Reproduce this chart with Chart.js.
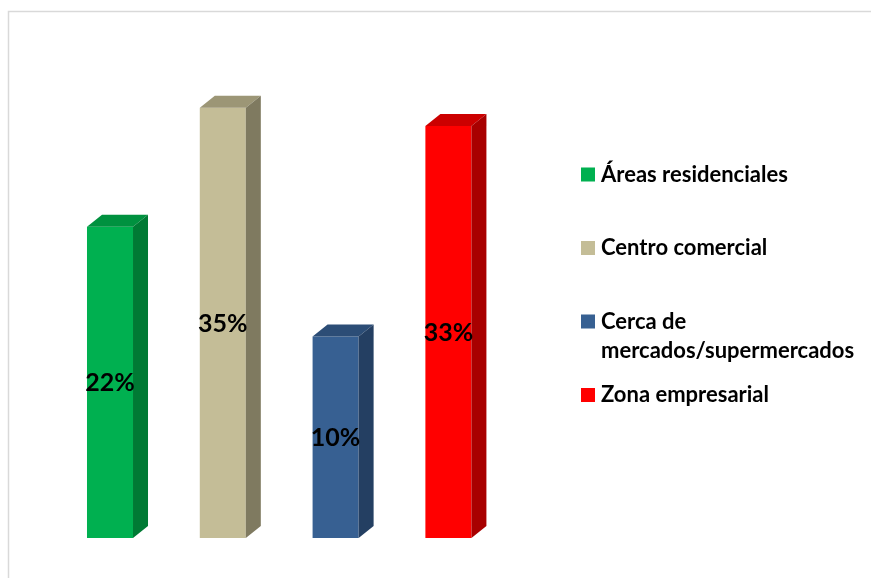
<!DOCTYPE html>
<html>
<head>
<meta charset="utf-8">
<script src="https://cdn.jsdelivr.net/npm/chart.js@4/dist/chart.umd.min.js"></script>
<style>
  html, body { margin: 0; padding: 0; background: #fff; }
  #wrap { position: relative; width: 871px; height: 578px; }
</style>
</head>
<body>
<div id="wrap"><canvas id="myChart" width="871" height="578"></canvas></div>
<script>
// categories and values
const categories = ['Áreas residenciales', 'Centro comercial', ['Cerca de', 'mercados/supermercados'], 'Zona empresarial'];
const values = [22, 35, 10, 33];

// face colours: front, top, side
const frontColors = ['#00B050', '#C4BD97', '#376092', '#FF0000'];
const topColors = ['#00913F', '#9C9676', '#2C4D76', '#CC0000'];
const sideColors = ['#007A34', '#7F7A60', '#243F62', '#A80000'];

const FONT = 'Lato, "Open Sans", sans-serif';

// thin frame line along top and left
const framePlugin = {
    id: 'frame',
    beforeDraw(chart) {
        const ctx = chart.ctx;
        ctx.save();
        ctx.strokeStyle = '#D9D9D9';
        ctx.lineWidth = 1.5;
        ctx.beginPath();
        ctx.moveTo(8.5, 578);
        ctx.lineTo(8.5, 11.5);
        ctx.lineTo(871, 11.5);
        ctx.stroke();
        ctx.restore();
    }
};

// extruded top and side faces plus value labels
const depthPlugin = {
    id: 'depth',
    afterDatasetsDraw(chart) {
        const ctx = chart.ctx;
        const dx = 15, dy = 12;
        const meta = chart.getDatasetMeta(0);
        ctx.save();
        meta.data.forEach((bar, i) => {
            const left = bar.x - bar.width / 2;
            const right = bar.x + bar.width / 2;
            const top = bar.y;
            const bottom = bar.base;

            ctx.fillStyle = topColors[i];
            ctx.beginPath();
            ctx.moveTo(left, top);
            ctx.lineTo(left + dx, top - dy);
            ctx.lineTo(right + dx, top - dy);
            ctx.lineTo(right, top);
            ctx.closePath();
            ctx.fill();

            ctx.fillStyle = sideColors[i];
            ctx.beginPath();
            ctx.moveTo(right, top);
            ctx.lineTo(right + dx, top - dy);
            ctx.lineTo(right + dx, bottom - dy);
            ctx.lineTo(right, bottom);
            ctx.closePath();
            ctx.fill();

            ctx.fillStyle = '#000';
            ctx.font = 'bold 25px ' + FONT;
            ctx.textAlign = 'center';
            ctx.textBaseline = 'middle';
            ctx.fillText(values[i] + '%', bar.x, (top + bottom) / 2 + 1);
        });
        ctx.restore();
    }
};

// legend on the right, one square per category
const legendPlugin = {
    id: 'sideLegend',
    afterDraw(chart) {
        const ctx = chart.ctx;
        const x0 = 581, y0 = 174.5, step = 73.5, lineGap = 29.5;
        ctx.save();
        ctx.font = 'bold 22px ' + FONT;
        ctx.textAlign = 'left';
        ctx.textBaseline = 'middle';
        categories.forEach((cat, i) => {
            const y = y0 + i * step;
            ctx.fillStyle = frontColors[i];
            ctx.fillRect(x0, y - 7, 14, 14);
            ctx.fillStyle = '#000';
            const lines = Array.isArray(cat) ? cat : [cat];
            lines.forEach((line, j) => {
                ctx.fillText(line, 601, y + j * lineGap);
            });
        });
        ctx.restore();
    }
};

const ctx = document.getElementById('myChart').getContext('2d');
new Chart(ctx, {
    type: 'bar',
    data: {
        labels: categories,
        datasets: [{
            data: values,
            backgroundColor: frontColors,
            borderWidth: 0,
            base: -12,
            barPercentage: 0.408,
            categoryPercentage: 1
        }]
    },
    options: {
        responsive: false,
        animation: false,
        layout: { padding: { left: 53.6, right: 366.2, top: 62, bottom: 40 } },
        plugins: {
            legend: { display: false },
            tooltip: { enabled: false }
        },
        scales: {
            x: { display: false },
            y: { display: false, min: -12, max: 40 }
        }
    },
    plugins: [framePlugin, depthPlugin, legendPlugin]
});
</script>
</body>
</html>
